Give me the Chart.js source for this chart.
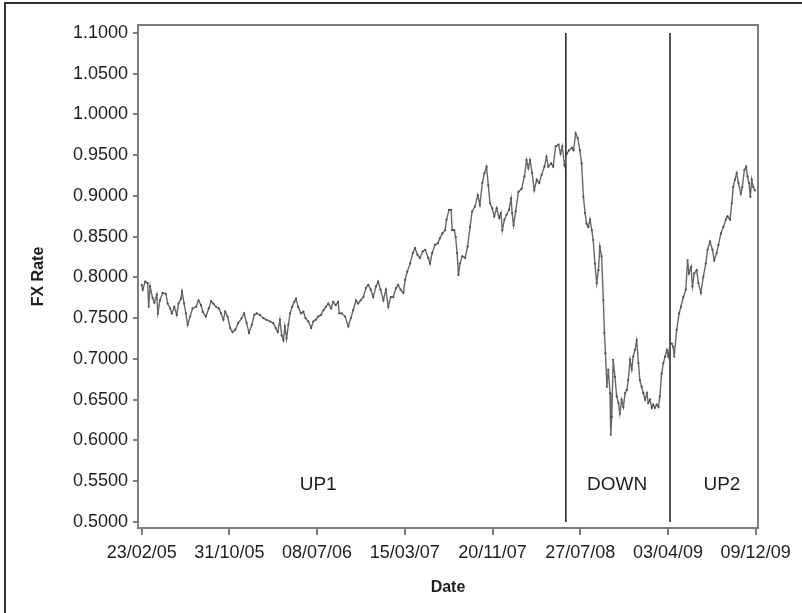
<!DOCTYPE html>
<html>
<head>
<meta charset="utf-8">
<script src="https://cdn.jsdelivr.net/npm/chart.js@4.4.0/dist/chart.umd.min.js"></script>
<style>
  html, body { margin: 0; padding: 0; background: #fff; }
</style>
</head>
<body>
<canvas id="fx-chart" width="802" height="613"></canvas>
<script>
// x values are days counted from 23/02/05
const dayOffsets = [
  0, 3, 10, 17, 20, 24, 31, 36, 43, 46,
  52, 60, 69, 74, 81, 86, 93, 100, 105, 112,
  115, 121, 126, 131, 138, 145, 155, 162, 169, 174,
  183, 191, 198, 204, 212, 220, 226, 233, 238, 245,
  252, 259, 267, 275, 285, 292, 299, 306, 314, 321,
  328, 337, 347, 356, 366, 375, 382, 388, 394, 399,
  404, 408, 413, 418, 423, 429, 435, 440, 446, 454,
  461, 467, 475, 483, 489, 496, 503, 511, 518, 525,
  532, 540, 546, 553, 560, 563, 570, 580, 589, 596,
  603, 611, 617, 624, 632, 639, 646, 653, 660, 668,
  674, 681, 689, 696, 703, 710, 717, 725, 731, 738,
  746, 751, 757, 765, 773, 779, 786, 793, 801, 808,
  817, 822, 828, 836, 844, 850, 857, 865, 869, 876,
  882, 885, 891, 895, 899, 903, 907, 914, 922, 929,
  936, 942, 950, 958, 964, 971, 977, 983, 988, 993,
  999, 1005, 1012, 1019, 1024, 1028, 1034, 1040, 1047, 1053,
  1056, 1060, 1066, 1074, 1083, 1091, 1097, 1102, 1107, 1113,
  1119, 1126, 1133, 1140, 1148, 1154, 1159, 1167, 1173, 1180,
  1188, 1194, 1199, 1205, 1212, 1218, 1226, 1231, 1237, 1243,
  1249, 1254, 1259, 1264, 1268, 1273, 1278, 1283, 1287, 1292,
  1297, 1302, 1306, 1311, 1316, 1319, 1322, 1326, 1330, 1335,
  1337, 1340, 1344, 1349, 1354, 1359, 1363, 1368, 1373, 1378,
  1383, 1387, 1392, 1397, 1401, 1406, 1411, 1416, 1420, 1425,
  1430, 1435, 1440, 1444, 1449, 1454, 1458, 1463, 1468, 1473,
  1477, 1482, 1487, 1492, 1497, 1501, 1506, 1511, 1515, 1518,
  1525, 1532, 1537, 1544, 1551, 1556, 1560, 1566, 1570, 1575,
  1582, 1587, 1594, 1601, 1608, 1613, 1620, 1627, 1632, 1639,
  1644, 1651, 1658, 1665, 1670, 1677, 1682, 1686, 1691, 1696,
  1701, 1708, 1712, 1718, 1723, 1727, 1731, 1735, 1739, 1743,
  1748
];

const fxRates = [
  0.791, 0.785, 0.795, 0.793, 0.764, 0.789, 0.775, 0.769, 0.779, 0.756,
  0.772, 0.781, 0.780, 0.768, 0.762, 0.756, 0.764, 0.754, 0.768, 0.774,
  0.783, 0.768, 0.756, 0.742, 0.752, 0.762, 0.764, 0.772, 0.766, 0.758,
  0.752, 0.762, 0.771, 0.768, 0.764, 0.762, 0.756, 0.748, 0.758, 0.752,
  0.738, 0.733, 0.736, 0.744, 0.750, 0.756, 0.744, 0.732, 0.742, 0.754,
  0.756, 0.754, 0.750, 0.748, 0.746, 0.744, 0.738, 0.733, 0.748, 0.729,
  0.723, 0.740, 0.725, 0.742, 0.756, 0.764, 0.770, 0.774, 0.764, 0.756,
  0.758, 0.750, 0.746, 0.738, 0.746, 0.748, 0.752, 0.754, 0.760, 0.764,
  0.768, 0.762, 0.770, 0.766, 0.770, 0.756, 0.756, 0.752, 0.740, 0.750,
  0.760, 0.772, 0.768, 0.772, 0.776, 0.787, 0.791, 0.785, 0.776, 0.789,
  0.795, 0.785, 0.772, 0.785, 0.764, 0.776, 0.776, 0.787, 0.791, 0.785,
  0.781, 0.797, 0.807, 0.817, 0.830, 0.836, 0.828, 0.824, 0.832, 0.834,
  0.824, 0.817, 0.830, 0.840, 0.842, 0.848, 0.854, 0.858, 0.871, 0.883,
  0.883, 0.858, 0.858, 0.850, 0.830, 0.803, 0.817, 0.826, 0.824, 0.838,
  0.862, 0.881, 0.887, 0.901, 0.889, 0.916, 0.928, 0.936, 0.913, 0.891,
  0.885, 0.875, 0.885, 0.873, 0.879, 0.858, 0.871, 0.877, 0.883, 0.897,
  0.879, 0.864, 0.881, 0.905, 0.909, 0.924, 0.944, 0.934, 0.944, 0.928,
  0.907, 0.920, 0.916, 0.926, 0.936, 0.948, 0.936, 0.940, 0.936, 0.961,
  0.963, 0.952, 0.961, 0.938, 0.952, 0.956, 0.959, 0.956, 0.977, 0.971,
  0.956, 0.940, 0.899, 0.879, 0.866, 0.862, 0.871, 0.858, 0.846, 0.817,
  0.793, 0.809, 0.838, 0.826, 0.772, 0.732, 0.707, 0.666, 0.687, 0.658,
  0.607, 0.629, 0.699, 0.678, 0.654, 0.646, 0.633, 0.650, 0.641, 0.658,
  0.662, 0.674, 0.699, 0.687, 0.703, 0.711, 0.723, 0.695, 0.674, 0.666,
  0.658, 0.650, 0.658, 0.646, 0.650, 0.640, 0.644, 0.640, 0.644, 0.641,
  0.654, 0.682, 0.695, 0.703, 0.711, 0.703, 0.719, 0.719, 0.715, 0.703,
  0.736, 0.756, 0.764, 0.776, 0.785, 0.821, 0.805, 0.813, 0.789, 0.805,
  0.809, 0.793, 0.781, 0.801, 0.817, 0.834, 0.844, 0.834, 0.821, 0.830,
  0.840, 0.854, 0.862, 0.871, 0.875, 0.871, 0.891, 0.911, 0.920, 0.928,
  0.916, 0.903, 0.911, 0.932, 0.936, 0.924, 0.916, 0.899, 0.920, 0.911,
  0.907
];

const xTickDays = [0, 250, 500, 750, 1000, 1250, 1500, 1750];
const xTickLabels = ["23/02/05", "31/10/05", "08/07/06", "15/03/07", "20/11/07", "27/07/08", "03/04/09", "09/12/09"];
const yTickValues = [0.5, 0.55, 0.6, 0.65, 0.7, 0.75, 0.8, 0.85, 0.9, 0.95, 1.0, 1.05, 1.1];

// regime breaks
const breakDays = [1209, 1506];
const breakLow = 0.5;
const breakHigh = 1.1;

const regionNames = ["UP1", "DOWN", "UP2"];
const regionDays = [503, 1355, 1654];
const regionLevel = 0.5454;

const fontFamily = "'Liberation Sans', Arial, sans-serif";

const framePlugin = {
  id: "framePlugin",
  beforeDraw(chart) {
    const ctx = chart.ctx;
    ctx.save();
    ctx.fillStyle = "#ffffff";
    ctx.fillRect(0, 0, chart.width, chart.height);
    ctx.restore();
  },
  afterDraw(chart) {
    const { ctx, chartArea, scales } = chart;
    ctx.save();
    ctx.strokeStyle = "#7d7d7d";
    ctx.lineWidth = 2;
    ctx.strokeRect(chartArea.left, chartArea.top, chartArea.right - chartArea.left, chartArea.bottom - chartArea.top);

    ctx.strokeStyle = "#333333";
    ctx.lineWidth = 2;
    ctx.strokeRect(5, 3, 900, 700);

    ctx.fillStyle = "#1e1e1e";
    ctx.font = "19px " + fontFamily;
    ctx.textAlign = "center";
    ctx.textBaseline = "middle";
    regionNames.forEach((name, i) => {
      ctx.fillText(name, scales.x.getPixelForValue(regionDays[i]), scales.y.getPixelForValue(regionLevel));
    });
    ctx.restore();
  },
};

const seriesData = dayOffsets.map((d, i) => ({ x: d, y: fxRates[i] }));

const breakSets = breakDays.map((d) => ({
  data: [
    { x: d, y: breakHigh },
    { x: d, y: breakLow },
  ],
  borderColor: "#2b2b2b",
  borderWidth: 1.6,
  pointRadius: 0,
  tension: 0,
}));

const ctx = document.getElementById("fx-chart").getContext("2d");

new Chart(ctx, {
  type: "line",
  plugins: [framePlugin],
  data: {
    datasets: [
      {
        label: "FX Rate",
        data: seriesData,
        borderColor: "#676767",
        borderWidth: 1.4,
        pointRadius: 1.1,
        pointBackgroundColor: "#4d4d4d",
        pointBorderWidth: 0,
        tension: 0,
      },
      ...breakSets,
    ],
  },
  options: {
    responsive: false,
    animation: false,
    layout: {
      padding: { left: 0, top: 25, right: 44, bottom: 0 },
    },
    plugins: {
      legend: { display: false },
      tooltip: { enabled: false },
    },
    scales: {
      x: {
        type: "linear",
        min: -10.5,
        max: 1756.8,
        afterBuildTicks: (scale) => {
          scale.ticks = xTickDays.map((v) => ({ value: v }));
        },
        afterFit: (scale) => {
          scale.height = 85;
        },
        ticks: {
          autoSkip: false,
          maxRotation: 0,
          padding: 7,
          color: "#1e1e1e",
          font: { family: fontFamily, size: 18 },
          callback: (value) => xTickLabels[xTickDays.indexOf(value)],
        },
        grid: {
          drawOnChartArea: false,
          drawTicks: true,
          tickLength: 7,
          color: "#7d7d7d",
          lineWidth: 2,
        },
        border: { color: "#7d7d7d", width: 2 },
        title: {
          display: true,
          text: "Date",
          color: "#1e1e1e",
          font: { family: fontFamily, size: 16, weight: "bold" },
          padding: { top: 0, bottom: 16 },
        },
      },
      y: {
        type: "linear",
        min: 0.4926,
        max: 1.1098,
        afterBuildTicks: (scale) => {
          scale.ticks = yTickValues.map((v) => ({ value: v }));
        },
        afterFit: (scale) => {
          scale.width = 138;
        },
        ticks: {
          padding: 5,
          color: "#1e1e1e",
          font: { family: fontFamily, size: 18 },
          callback: (value) => value.toFixed(4),
        },
        grid: {
          drawOnChartArea: false,
          drawTicks: true,
          tickLength: 5,
          color: "#7d7d7d",
          lineWidth: 2,
        },
        border: { color: "#7d7d7d", width: 2 },
        title: {
          display: true,
          text: "FX Rate",
          color: "#1e1e1e",
          font: { family: fontFamily, size: 16, weight: "bold" },
          padding: { top: 29, bottom: 0 },
        },
      },
    },
  },
});
</script>
</body>
</html>
